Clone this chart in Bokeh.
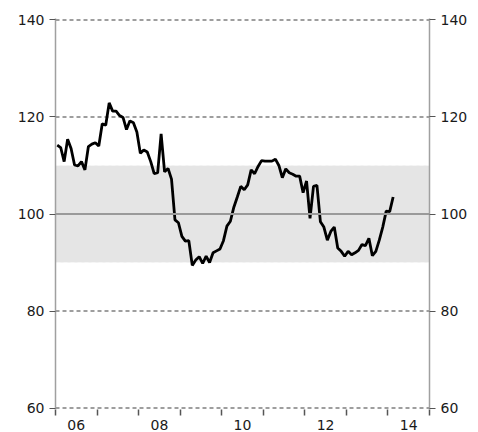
import pandas as pd
from bokeh.plotting import figure
from bokeh.models import FixedTicker, LinearAxis, Range1d, BoxAnnotation, Span, ColumnDataSource
from bokeh.embed import file_html
from bokeh.resources import INLINE

# ---- data ----
months = pd.date_range("2006-01-01", "2014-02-01", freq="MS")
values = [
    114.2, 113.7, 110.8, 115.4, 113.5, 110.1, 109.9, 110.8, 109.1, 113.9,
    114.4, 114.7, 114.0, 118.6, 118.3, 122.9, 121.2, 121.2, 120.3, 119.9,
    117.4, 119.2, 118.8, 116.9, 112.5, 113.2, 112.8, 110.8, 108.3, 108.5,
    116.5, 108.7, 109.4, 107.2, 98.8, 98.2, 95.4, 94.4, 94.5, 89.4,
    90.5, 91.2, 89.8, 91.3, 90.0, 92.0, 92.4, 92.8, 94.5, 97.5,
    98.5, 101.4, 103.5, 105.7, 105.0, 106.0, 109.1, 108.3, 109.8, 111.0,
    110.9, 110.9, 110.9, 111.3, 110.0, 107.5, 109.3, 108.5, 108.2, 107.8,
    107.8, 104.4, 106.8, 99.1, 105.7, 105.9, 98.4, 97.3, 94.6, 96.4,
    97.3, 93.0, 92.3, 91.3, 92.3, 91.6, 92.0, 92.5, 93.7, 93.5,
    95.0, 91.4, 92.3, 94.6, 97.3, 100.6, 100.5, 103.5,
]
band_low, band_high = 90, 110
neutral = 100
y_ticks = [60, 80, 100, 120, 140]
grid_ticks = [60, 80, 120, 140]
x_label_years = [2006, 2008, 2010, 2012, 2014]
x_year_bounds = list(range(2006, 2016))

xdec = [m.year + (m.month - 0.5) / 12 for m in months]
src = ColumnDataSource(dict(x=xdec, y=values))

FONT = "DejaVu Sans"
TXT = "#1a1a1a"
AX = "#a0a0a0"
TK = "#555555"

p = figure(width=470, height=432, x_range=Range1d(2006, 2015), y_range=Range1d(59.7, 140.3),
           output_backend="svg", toolbar_location=None,
           min_border_left=55, min_border_right=37, min_border_top=18, min_border_bottom=21)
p.outline_line_color = None
p.background_fill_color = "white"

p.add_layout(BoxAnnotation(bottom=band_low, top=band_high, fill_color="#e5e5e5", fill_alpha=1,
                           line_color="white", line_dash="4 3", line_width=1, level="underlay"))

p.xgrid.visible = False
p.ygrid.visible = False
for g in grid_ticks:
    p.add_layout(Span(location=g, dimension="width", line_color="#7f7f7f",
                      line_dash="4 3", line_width=1.5, level="underlay"))

p.add_layout(Span(location=neutral, dimension="width", line_color="#9a9a9a", line_width=2.2))

p.line("x", "y", source=src, line_color="black", line_width=2.8)

def style_y(ax):
    ax.ticker = FixedTicker(ticks=y_ticks)
    ax.axis_line_color = AX
    ax.axis_line_width = 1.5
    ax.major_tick_line_color = TK
    ax.major_tick_out = 6
    ax.major_tick_in = 0
    ax.minor_tick_line_color = None
    ax.major_label_text_font = FONT
    ax.major_label_text_font_size = "14px"
    ax.major_label_text_color = TXT
    ax.major_label_standoff = 5

style_y(p.yaxis[0])
ry = LinearAxis()
p.add_layout(ry, "right")
style_y(ry)

xa = p.xaxis[0]
xa.ticker = FixedTicker(ticks=[y + 0.5 for y in x_label_years], minor_ticks=x_year_bounds)
xa.major_label_overrides = {y + 0.5: f"{y % 100:02d}" for y in x_label_years}
xa.axis_line_color = None
xa.major_tick_line_color = None
xa.major_tick_out = 0
xa.major_tick_in = 0
xa.minor_tick_line_color = TK
xa.minor_tick_line_width = 1.5
xa.minor_tick_out = 6
xa.minor_tick_in = 0
xa.major_label_text_font = FONT
xa.major_label_text_font_size = "14px"
xa.major_label_text_color = TXT
xa.major_label_standoff = 4

open("out.html", "w").write(file_html(p, INLINE))
